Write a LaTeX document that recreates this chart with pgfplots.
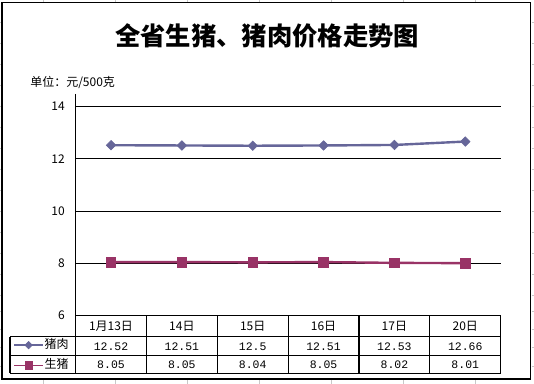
\documentclass[border=0pt]{standalone}
\usepackage{fontspec}
\setmainfont{Noto Sans CJK SC}
\newfontfamily\numfont{Liberation Mono}
\usepackage{pgfplots}
\pgfplotsset{compat=1.18}
\definecolor{pork}{RGB}{102,102,153}
\definecolor{hog}{RGB}{153,51,102}
\definecolor{sheet}{RGB}{200,200,200}
\begin{document}
\begin{tikzpicture}
\begin{axis}[
  at={(56.7pt,51.225pt)}, anchor=south west,
  scale only axis, width=318.83pt, height=166.3pt,
  xmin=-0.5, xmax=5.5, ymin=6, ymax=14.48,
  axis line style={draw=none},
  xtick=\empty, ytick={6,8,10,12,14},
  major tick length=0pt,
  ymajorgrids, grid style={black, line width=0.8pt},
  /pgf/number format/assume math mode=true,
  yticklabel style={font=\fontsize{9}{10}\selectfont, inner sep=0pt, anchor=east, xshift=-8pt},
  clip=false,
  legend cell align=left,
  legend style={at={(-0.1473,-0.1786)}, anchor=west, draw=none, fill=none, inner sep=0pt,
    row sep=5pt, font=\fontsize{9}{10}\selectfont,
    nodes={inner sep=0.6pt, text height=7pt, text depth=2pt}},
  legend image code/.code={\draw[mark repeat=2,mark phase=2, line width=1.2pt,
    /tikz/every mark/.append style={scale=0.78}] plot coordinates {(0pt,0pt)(10.9pt,0pt)(21.75pt,0pt)};},
]
\addplot[color=pork, line width=1.8pt, mark=square*, mark size=2.5pt,
  mark options={rotate=45, line width=0.5pt, fill=pork}]
  coordinates {(0,12.52)(1,12.51)(2,12.5)(3,12.51)(4,12.53)(5,12.66)};
\addlegendentry{猪肉}
\addplot[color=hog, line width=1.8pt, mark=square*, mark size=3.6pt,
  mark options={line width=0.5pt, fill=hog}]
  coordinates {(0,8.05)(1,8.05)(2,8.04)(3,8.05)(4,8.02)(5,8.01)};
\addlegendentry{生猪}
\end{axis}
\begin{scope}[x=0.75pt, y=-0.75pt, shift={(0pt,288pt)}]
\path[use as bounding box] (0,0) rectangle (534,384);
% spreadsheet grid outside the chart
\foreach \x in {43,115,187,259,331,403,475} {
  \draw[sheet, line width=0.75pt] (\x,0) -- (\x,2.2);
  \draw[sheet, line width=0.75pt] (\x,380) -- (\x,384);
}
\foreach \y in {23,44,65,86,107,128,149,170,191,212,233,254,275,296,312,330,348,367} {
  \draw[sheet, line width=0.75pt] (0,\y) -- (1.5,\y);
  \draw[sheet, line width=0.75pt] (531.5,\y) -- (534,\y);
}
% chart border
\draw[black, line width=0.9pt] (2,2.7) rectangle (530.7,379);
% title and unit
\node[font=\fontsize{19}{22}\selectfont\bfseries] at (267,36) {全省生猪、猪肉价格走势图};
\node[font=\fontsize{9}{10}\selectfont, anchor=west, inner sep=0pt] at (30,83) {单位：元/500克};
% y axis line
\draw[line width=0.8pt] (75.6,94) -- (75.6,373.5);
% data table
\draw[line width=0.8pt] (75.6,315.7) -- (500.7,315.7);
\draw[line width=0.8pt] (10,336.7) -- (500.7,336.7);
\draw[line width=0.8pt] (10,355.7) -- (500.7,355.7);
\draw[line width=0.8pt] (10,373.5) -- (500.7,373.5);
\draw[line width=0.8pt] (10,336.7) -- (10,373.5);
\foreach \k in {1,...,6} {
  \draw[line width=0.8pt] ({75.6+70.85*\k},315.7) -- ({75.6+70.85*\k},373.5);
}
\begin{scope}[every node/.style={font=\fontsize{9}{10}\selectfont, inner sep=0pt}]
\foreach \t [count=\i from 0] in {1月13日,14日,15日,16日,17日,20日} {
  \node at ({111+70.85*\i},326.5) {\t};
}
\foreach \t [count=\i from 0] in {12.52,12.51,12.5,12.51,12.53,12.66} {
  \node[font=\numfont\fontsize{8.6}{10}\selectfont] at ({111+70.85*\i},346.5) {\t};
}
\foreach \t [count=\i from 0] in {8.05,8.05,8.04,8.05,8.02,8.01} {
  \node[font=\numfont\fontsize{8.6}{10}\selectfont] at ({111+70.85*\i},365) {\t};
}
\end{scope}
\end{scope}
\end{tikzpicture}
\end{document}
